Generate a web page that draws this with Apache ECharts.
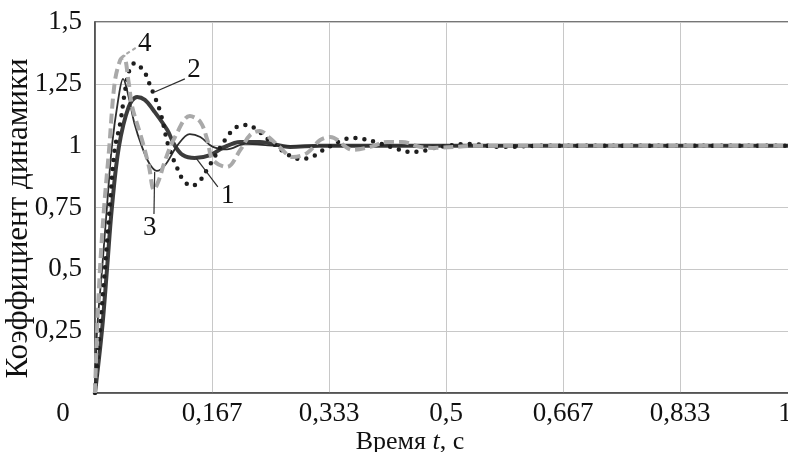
<!DOCTYPE html>
<html>
<head>
<meta charset="utf-8">
<script src="https://cdn.jsdelivr.net/npm/echarts@6/dist/echarts.min.js"></script>
<style>html,body{margin:0;padding:0;background:#fff}#c{width:788px;height:452px}</style>
</head>
<body>
<div id="c"></div>
<script>
// x tick labels
var xTicks = ['0', '0,167', '0,333', '0,5', '0,667', '0,833', '1'];
// Curve 1 (thick solid)
var t1 = [0, 0.010, 0.017, 0.024, 0.034, 0.048, 0.060, 0.071, 0.083, 0.103, 0.114, 0.125, 0.142, 0.164, 0.182, 0.207, 0.235, 0.278, 0.32, 1.0];
var v1 = [0, 0.255, 0.497, 0.748, 0.995, 1.157, 1.197, 1.185, 1.144, 1.063, 0.999, 0.962, 0.950, 0.962, 0.991, 1.015, 1.015, 0.995, 1.0, 1.0];
// Curve 2 (dotted)
var t2 = [0, 0.007, 0.014, 0.021, 0.028, 0.036, 0.043, 0.050, 0.057, 0.071, 0.077, 0.083, 0.093, 0.105, 0.117, 0.124, 0.137, 0.148, 0.161, 0.188, 0.202, 0.217, 0.231, 0.246, 0.278, 0.292, 0.309, 0.323, 0.353, 0.368, 0.382, 0.399, 0.430, 0.444, 0.459, 0.484, 0.534, 0.577, 0.648, 1.0];
var v2 = [0, 0.255, 0.497, 0.752, 0.983, 1.092, 1.225, 1.314, 1.334, 1.294, 1.254, 1.213, 1.136, 0.995, 0.910, 0.869, 0.837, 0.853, 0.910, 1.035, 1.076, 1.084, 1.063, 1.027, 0.958, 0.946, 0.954, 0.979, 1.023, 1.031, 1.027, 1.015, 0.987, 0.975, 0.975, 0.991, 1.007, 0.995, 1.0, 1.0];
// Curve 3 (thin solid)
var t3 = [0, 0.003, 0.010, 0.017, 0.024, 0.033, 0.040, 0.048, 0.056, 0.067, 0.077, 0.088, 0.100, 0.117, 0.135, 0.150, 0.168, 0.188, 0.214, 0.264, 0.35, 1.0];
var v3 = [0, 0.255, 0.497, 0.752, 0.995, 1.185, 1.270, 1.197, 1.092, 0.995, 0.930, 0.898, 0.922, 0.999, 1.047, 1.035, 0.995, 0.985, 1.007, 0.999, 1.0, 1.0];
// Curve 4 (grey dashed)
var t4 = [0, 0.003, 0.007, 0.013, 0.020, 0.028, 0.036, 0.041, 0.048, 0.053, 0.067, 0.077, 0.084, 0.091, 0.100, 0.114, 0.135, 0.150, 0.160, 0.168, 0.188, 0.207, 0.221, 0.235, 0.249, 0.264, 0.282, 0.302, 0.321, 0.335, 0.368, 0.392, 0.416, 0.437, 0.463, 0.481, 0.55, 1.0];
var v4 = [0, 0.255, 0.497, 0.752, 0.983, 1.254, 1.347, 1.359, 1.254, 1.157, 1.023, 0.914, 0.821, 0.861, 0.942, 1.035, 1.120, 1.096, 1.023, 0.942, 0.914, 0.983, 1.043, 1.059, 1.031, 0.991, 0.954, 0.970, 1.023, 1.035, 0.983, 0.995, 1.015, 1.015, 0.995, 0.991, 1.0, 1.0];
// Annotations: label, text position [t, v], leader from [t, v] to [t, v]
var notes = [
  {text: '4', pos: [0.071, 1.411], from: [0.058, 1.395], to: [0.040, 1.363], dashed: true},
  {text: '2', pos: [0.141, 1.306], from: [0.128, 1.270], to: [0.085, 1.217], dashed: false},
  {text: '1', pos: [0.189, 0.797], from: [0.175, 0.833], to: [0.144, 0.950], dashed: false},
  {text: '3', pos: [0.078, 0.667], from: [0.084, 0.724], to: [0.085, 0.894], dashed: false}
];

function zip(t, v) { return t.map(function (x, i) { return [x, v[i]]; }); }
var FONT = "'Liberation Serif', 'Times New Roman', serif";
var chart = echarts.init(document.getElementById('c'), null, {renderer: 'canvas'});
chart.setOption({
  animation: false,
  backgroundColor: '#fff',
  grid: {left: 95, top: 22, width: 702, bottom: 59, containLabel: false, outerBoundsMode: 'none',
         show: true, borderColor: '#4a4a4a', borderWidth: 1.5, backgroundColor: 'transparent'},
  xAxis: {
    type: 'value', min: 0, max: 1, interval: 1 / 6,
    name: 'Время {i|t}, с', nameLocation: 'middle', nameGap: 36, nameMoveOverlap: false,
    nameTextStyle: {fontFamily: FONT, fontSize: 26, color: '#111', padding: [0, 72, 0, 0],
      rich: {i: {fontFamily: FONT, fontSize: 26, fontStyle: 'italic', color: '#111'}}},
    axisLine: {show: true, lineStyle: {color: '#4a4a4a', width: 1.5}},
    axisTick: {show: false},
    splitLine: {show: true, lineStyle: {color: '#c8c8c8', width: 1}},
    axisLabel: {
      fontFamily: FONT, fontSize: 27, color: '#111', margin: 7, hideOverlap: false, showMaxLabel: true,
      formatter: function (v, i) {
        if (i === 0) return '{z|0}';
        if (i === xTicks.length - 1) return '{e|' + xTicks[i] + '}';
        return xTicks[i] || '';
      },
      rich: {
        z: {fontFamily: FONT, fontSize: 27, color: '#111', padding: [0, 64, 0, 0]},
        e: {fontFamily: FONT, fontSize: 27, color: '#111', padding: [0, 24, 0, 0]}
      }
    }
  },
  yAxis: {
    type: 'value', min: 0, max: 1.5, interval: 0.25,
    name: 'Коэффициент динамики', nameLocation: 'middle', nameGap: 61, nameRotate: 90, nameMoveOverlap: false,
    nameTextStyle: {fontFamily: FONT, fontSize: 31, color: '#111', padding: [0, 22, 0, 0]},
    axisLine: {show: true, lineStyle: {color: '#4a4a4a', width: 1.5}},
    axisTick: {show: false},
    splitLine: {show: true, lineStyle: {color: '#c8c8c8', width: 1}},
    axisLabel: {
      fontFamily: FONT, fontSize: 27, color: '#111', margin: 13,
      formatter: function (v) { return v === 0 ? '' : String(v).replace('.', ','); }
    }
  },
  series: [
    {name: '1', type: 'line', data: zip(t1, v1), smooth: 0.35, showSymbol: false, z: 2,
     lineStyle: {color: '#3c3c3c', width: 4}},
    {name: '3', type: 'line', data: zip(t3, v3), smooth: 0.35, showSymbol: false, z: 3,
     lineStyle: {color: '#2e2e2e', width: 1.8}},
    {name: '2', type: 'line', data: zip(t2, v2), smooth: 0.35, showSymbol: false, z: 4,
     lineStyle: {color: '#1e1e1e', width: 4.5, type: [0, 9], cap: 'round'}},
    {name: '4', type: 'line', data: zip(t4, v4), smooth: 0.35, showSymbol: false, z: 5,
     lineStyle: {color: '#a9a9a9', width: 4, type: [10, 5]}}
  ]
});

var g = [];
notes.forEach(function (n) {
  var p = chart.convertToPixel({gridIndex: 0}, n.pos);
  var a = chart.convertToPixel({gridIndex: 0}, n.from);
  var b = chart.convertToPixel({gridIndex: 0}, n.to);
  g.push({type: 'line', z: 10, shape: {x1: a[0], y1: a[1], x2: b[0], y2: b[1]},
    style: n.dashed ? {stroke: '#a9a9a9', lineWidth: 2, lineDash: [4, 3]} : {stroke: '#2e2e2e', lineWidth: 1.2}});
  g.push({type: 'text', z: 11, x: p[0], y: p[1],
    style: {text: n.text, fontFamily: FONT, fontSize: 27, fill: '#111', align: 'center', verticalAlign: 'middle'}});
});
chart.setOption({graphic: g});
</script>
</body>
</html>
